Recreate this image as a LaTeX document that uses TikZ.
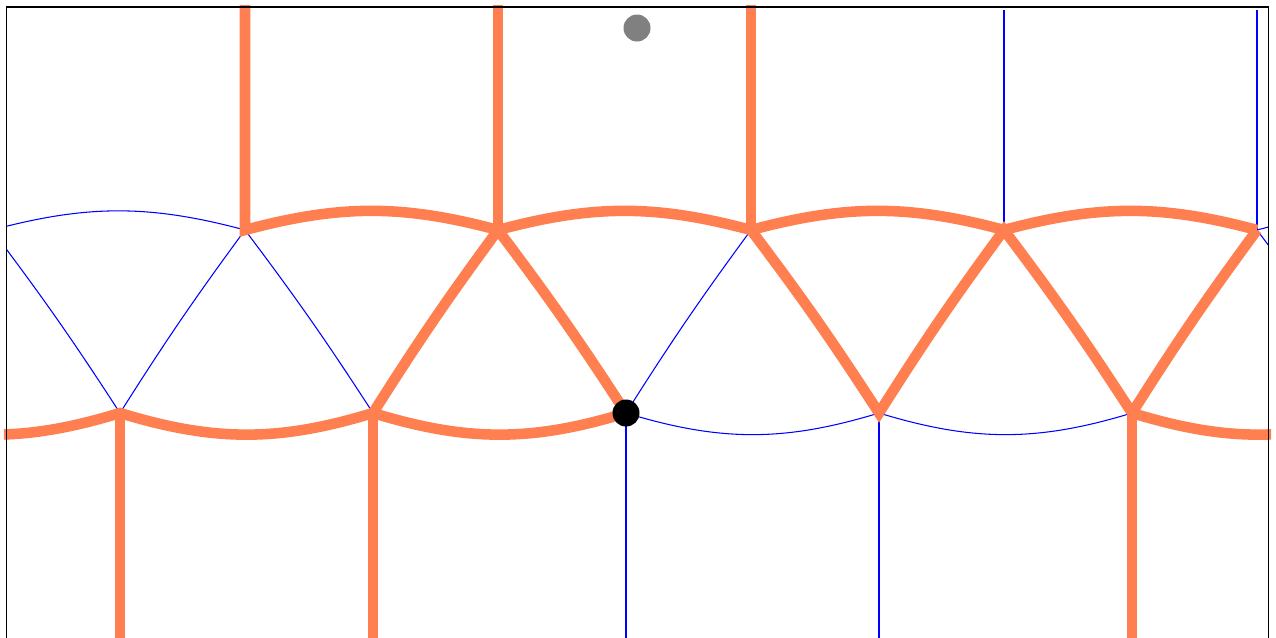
\documentclass[tikz,border=0pt]{standalone}
\usepackage{tikz}
\usetikzlibrary{calc}

\begin{document}
\begin{tikzpicture}[
  lattice/.style={draw=blue,line width=0.3pt},
  route/.style={draw={rgb,255:red,255;green,127;blue,80},line width=3pt,line join=miter},
  frame/.style={draw=black,line width=0.45pt},
  dot/.style={circle,inner sep=0pt,minimum size=2.7mm}
]
\useasboundingbox (0,0) rectangle (12.76,6.37);
\coordinate (top) at (0,6.45);
\coordinate (bot) at (0,-0.3);
\foreach \i in {0,...,6} {
  \coordinate (u\i) at ({-0.08+2.53*\i},4.07);
  \coordinate (l\i) at ({-1.33+2.53*\i},2.24);
}

\begin{scope}
\clip (0.065,-0.3) rectangle (12.685,6.27);
\foreach \i [evaluate=\i as \j using int(\i+1)] in {0,...,5} {
  \draw[lattice] (u\i) to[bend left=15] (u\j);
  \draw[lattice] (l\i) to[bend right=17] (l\j);
  \draw[lattice] (l\i) to[bend left=2] (u\i);
  \draw[lattice] (l\j) to[bend right=2] (u\i);
  \draw[lattice] (u\i) -- (u\i |- top);
  \draw[lattice] (l\i) -- (l\i |- bot);
}
\end{scope}

\begin{scope}
\clip (0.04,-0.3) rectangle (12.71,6.32);
\draw[route] (u1 |- top) -- (u1) to[bend left=15] (u2) to[bend left=15] (u3)
  to[bend left=15] (u4) to[bend left=15] (u5);
\draw[route] (u2 |- top) -- (u2);
\draw[route] (u3 |- top) -- (u3);
\draw[route] (l0) to[bend right=17] (l1) to[bend right=17] (l2) to[bend right=17] (l3);
\draw[route] (l3) to[bend right=2] (u2) to[bend right=2] (l2);
\draw[route] (u3) to[bend left=2] (l4) to[bend left=2] (u4) to[bend left=2] (l5)
  to[bend left=2] (u5);
\draw[route] (l5) to[bend right=17] (l6);
\draw[route] (l1) -- (l1 |- bot);
\draw[route] (l2) -- (l2 |- bot);
\draw[route] (l5) -- (l5 |- bot);
\end{scope}

\draw[frame] (0.065,-0.3) rectangle (12.685,6.30);
\node[dot,fill=black] (here) at (l3) {};
\node[dot,fill=gray] (mark) at (6.37,6.09) {};
\end{tikzpicture}
\end{document}
